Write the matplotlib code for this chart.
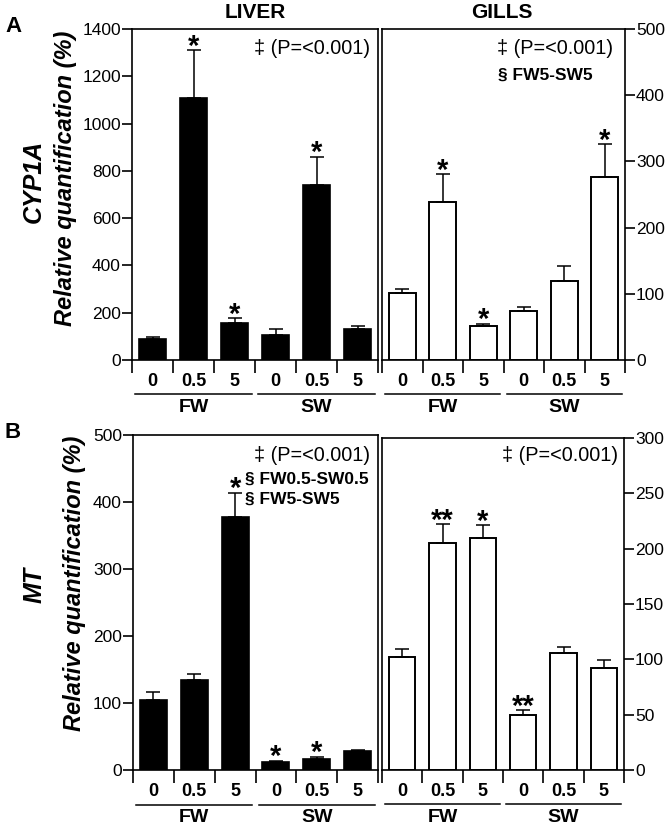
import numpy as np
import matplotlib
matplotlib.use("Agg")
import matplotlib.pyplot as plt
import matplotlib.transforms as mtransforms

plt.rcParams['font.family'] = ['Liberation Sans', 'DejaVu Sans']

doses = ['0', '0.5', '5', '0', '0.5', '5']
groups = ['FW', 'SW']

# CYP1A
liver_cyp = [87, 1107, 155, 107, 739, 132]
liver_cyp_err = [9, 204, 23, 25, 121, 13]
liver_cyp_sig = ['', '*', '*', '', '*', '']
gill_cyp = [101, 239, 51, 74, 119, 277]
gill_cyp_err = [6, 42, 4, 6, 23, 49]
gill_cyp_sig = ['', '*', '*', '', '', '*']

# MT
liver_mt = [104, 135, 377, 12, 16, 28]
liver_mt_err = [12, 9, 37, 2, 4, 2]
liver_mt_sig = ['', '', '*', '*', '*', '']
gill_mt = [102, 205, 210, 50, 106, 92]
gill_mt_err = [7, 17, 11, 4, 5, 7]
gill_mt_sig = ['', '**', '*', '**', '', '']

W, H = 667, 830
fig = plt.figure(figsize=(W / 100, H / 100), dpi=100)


def px_axes(x0, y0, x1, y1):
    return fig.add_axes([x0 / W, (H - y1) / H, (x1 - x0) / W, (y1 - y0) / H])


def panel(ax, vals, errs, sigs, ymax, ystep, filled, right=False):
    x = np.arange(len(vals))
    if filled:
        ax.bar(x, vals, width=0.66, color='black', edgecolor='black', lw=1.2, zorder=2)
    else:
        ax.bar(x, vals, width=0.66, color='white', edgecolor='black', lw=1.4, zorder=2)
    ax.errorbar(x, vals, yerr=[np.zeros(len(vals)), errs], fmt='none',
                ecolor='black', elinewidth=1.1, capsize=5, capthick=1.1, zorder=3)
    for i, s in enumerate(sigs):
        if s:
            ax.annotate(s, (i, vals[i] + errs[i]), xytext=(0, 2.5), textcoords='offset points',
                        ha='center', va='center', fontsize=21, fontweight='bold')
    ax.set_xlim(-0.5, len(vals) - 0.5)
    ax.set_ylim(0, ymax)
    ax.set_yticks(np.arange(0, ymax + 1, ystep))
    for sp in ax.spines.values():
        sp.set_linewidth(1.2)
    # x axis: boundary ticks only
    ax.set_xticks(np.arange(-0.5, len(vals), 1.0))
    ax.set_xticklabels([])
    ax.tick_params(axis='x', direction='out', length=9.5, width=1.2)
    if right:
        ax.yaxis.tick_right()
    ax.tick_params(axis='y', direction='out', length=7, width=1.2, pad=1, labelsize=12.5)
    trans = mtransforms.blended_transform_factory(ax.transData, ax.transAxes)
    for i, d in enumerate(doses):
        ax.text(i, -0.064, d, transform=trans, ha='center', va='center',
                fontsize=13, fontweight='bold')
    for g, c in zip(groups, [1, 4]):
        ax.plot([c - 1.42, c + 1.42], [-0.103, -0.103], transform=trans,
                color='black', lw=1.1, clip_on=False)
        ax.text(c, -0.142, g, transform=trans, ha='center', va='center',
                fontsize=14, fontweight='bold')


# panel A
ax1 = px_axes(132, 29, 378, 360)
panel(ax1, liver_cyp, liver_cyp_err, liver_cyp_sig, 1400, 200, True)
ax2 = px_axes(382, 29, 625, 360)
panel(ax2, gill_cyp, gill_cyp_err, gill_cyp_sig, 500, 100, False, right=True)

# panel B
ax3 = px_axes(133, 435, 378, 770)
panel(ax3, liver_mt, liver_mt_err, liver_mt_sig, 500, 100, True)
ax4 = px_axes(382, 438, 624, 770)
panel(ax4, gill_mt, gill_mt_err, gill_mt_sig, 300, 50, False, right=True)


def ftext(x, y, s, **kw):
    fig.text(x / W, 1 - y / H, s, **kw)


ftext(255, 13, 'LIVER', ha='center', va='center', fontsize=15, fontweight='bold')
ftext(502, 13, 'GILLS', ha='center', va='center', fontsize=15, fontweight='bold')
ftext(13, 27, 'A', ha='center', va='center', fontsize=16, fontweight='bold')
ftext(13, 432, 'B', ha='center', va='center', fontsize=16, fontweight='bold')

ylab = 'Relative quantification (%)'
ftext(66, 178, ylab, ha='center', va='center', rotation=90, fontsize=17,
      fontweight='bold', style='italic')
ftext(75, 583, ylab, ha='center', va='center', rotation=90, fontsize=17,
      fontweight='bold', style='italic')
ftext(34, 181, 'CYP1A', ha='center', va='center', rotation=90, fontsize=18,
      fontweight='bold', style='italic')
ftext(35, 585, 'MT', ha='center', va='center', rotation=90, fontsize=18,
      fontweight='bold', style='italic')

ptxt = '\u2021 (P=<0.001)'
ftext(370, 48, ptxt, ha='right', va='center', fontsize=14.3)
ftext(613, 48, ptxt, ha='right', va='center', fontsize=14.3)
ftext(370, 455, ptxt, ha='right', va='center', fontsize=14.3)
ftext(618, 455, ptxt, ha='right', va='center', fontsize=14.3)

ftext(593, 75, '\u00a7 FW5-SW5', ha='right', va='center', fontsize=12.5, fontweight='bold')
ftext(245, 479, '\u00a7 FW0.5-SW0.5', ha='left', va='center', fontsize=12.5, fontweight='bold')
ftext(245, 499, '\u00a7 FW5-SW5', ha='left', va='center', fontsize=12.5, fontweight='bold')

fig.savefig('out.png', dpi=100)
